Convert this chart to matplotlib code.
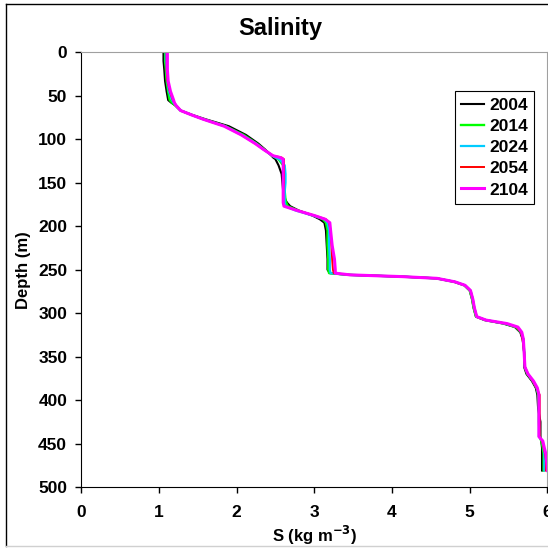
import matplotlib
matplotlib.use('Agg')
import matplotlib.pyplot as plt
from matplotlib.lines import Line2D

plt.rcParams['font.family'] = ['Liberation Sans', 'DejaVu Sans']
plt.rcParams['font.weight'] = 'bold'

# depth levels (m) shared by all profiles
depth = [0, 10, 20, 33, 45, 50, 55, 58, 61, 67, 72, 77, 85, 95, 105, 112, 119, 121, 123,
         130, 140, 150, 160, 170, 173, 177, 182, 188, 192, 196, 205, 222, 238, 250, 254,
         256, 258, 260, 264, 268, 274, 284, 294, 304, 308, 312, 316, 322, 330, 345, 362,
         370, 378, 386, 394, 410, 425, 442, 447, 455, 462, 470, 481]

years = ['2004', '2014', '2024', '2054', '2104']

s_2004 = [1.06, 1.06, 1.07, 1.08, 1.10, 1.11, 1.12, 1.16, 1.21, 1.28, 1.43, 1.60, 1.90, 2.12, 2.28, 2.37, 2.45, 2.47, 2.50,
          2.54, 2.58, 2.59, 2.60, 2.63, 2.65, 2.69, 2.80, 2.98, 3.07, 3.13, 3.15, 3.16, 3.17, 3.17, 3.20,
          3.44, 4.12, 4.57, 4.80, 4.93, 5.00, 5.03, 5.05, 5.08, 5.19, 5.43, 5.58, 5.65, 5.68, 5.70, 5.70,
          5.73, 5.80, 5.85, 5.87, 5.88, 5.91, 5.91, 5.92, 5.93, 5.93, 5.93, 5.93]
s_2014 = [1.08, 1.08, 1.09, 1.10, 1.12, 1.13, 1.14, 1.17, 1.21, 1.28, 1.42, 1.58, 1.86, 2.09, 2.26, 2.36, 2.46, 2.50, 2.54,
          2.60, 2.62, 2.62, 2.62, 2.63, 2.64, 2.66, 2.79, 3.00, 3.11, 3.15, 3.17, 3.17, 3.18, 3.18, 3.19,
          3.45, 4.12, 4.57, 4.80, 4.93, 5.00, 5.03, 5.05, 5.08, 5.20, 5.45, 5.59, 5.66, 5.69, 5.70, 5.71,
          5.74, 5.81, 5.86, 5.88, 5.89, 5.89, 5.90, 5.92, 5.94, 5.95, 5.95, 5.95]
s_2024 = [1.09, 1.09, 1.10, 1.11, 1.13, 1.15, 1.17, 1.19, 1.22, 1.28, 1.42, 1.57, 1.85, 2.07, 2.25, 2.35, 2.46, 2.50, 2.55,
          2.62, 2.63, 2.63, 2.62, 2.62, 2.62, 2.63, 2.76, 2.99, 3.13, 3.17, 3.19, 3.19, 3.20, 3.20, 3.21,
          3.45, 4.13, 4.58, 4.81, 4.94, 5.01, 5.04, 5.06, 5.09, 5.21, 5.46, 5.60, 5.66, 5.69, 5.70, 5.71,
          5.75, 5.81, 5.86, 5.89, 5.89, 5.89, 5.89, 5.93, 5.95, 5.96, 5.96, 5.96]
s_2054 = [1.10, 1.10, 1.10, 1.11, 1.14, 1.16, 1.18, 1.20, 1.22, 1.28, 1.42, 1.57, 1.84, 2.06, 2.24, 2.35, 2.47, 2.58, 2.61,
          2.61, 2.61, 2.61, 2.60, 2.60, 2.60, 2.62, 2.79, 3.01, 3.15, 3.19, 3.21, 3.22, 3.23, 3.24, 3.25,
          3.46, 4.13, 4.58, 4.81, 4.94, 5.01, 5.04, 5.06, 5.09, 5.21, 5.47, 5.60, 5.66, 5.68, 5.70, 5.71,
          5.75, 5.81, 5.86, 5.90, 5.90, 5.90, 5.90, 5.93, 5.95, 5.97, 5.98, 5.98]
s_2104 = [1.11, 1.11, 1.11, 1.12, 1.15, 1.17, 1.19, 1.20, 1.22, 1.28, 1.42, 1.57, 1.84, 2.06, 2.24, 2.35, 2.47, 2.56, 2.60,
          2.60, 2.60, 2.60, 2.60, 2.60, 2.60, 2.61, 2.78, 3.01, 3.14, 3.20, 3.21, 3.23, 3.26, 3.27, 3.27,
          3.46, 4.13, 4.58, 4.81, 4.94, 5.01, 5.04, 5.06, 5.09, 5.21, 5.48, 5.62, 5.67, 5.69, 5.70, 5.71,
          5.75, 5.82, 5.87, 5.89, 5.89, 5.89, 5.89, 5.94, 5.96, 5.98, 5.99, 6.00]

profiles = [s_2004, s_2014, s_2024, s_2054, s_2104]
colors = ['#000000', '#00ff00', '#00ccff', '#ff0000', '#ff00ff']
widths = [1.5, 1.7, 1.6, 1.4, 2.2]

fig = plt.figure(figsize=(5.48, 5.56), dpi=100)

# thin outer frame around the whole figure
fig.add_artist(Line2D([0.011, 0.011], [0.018, 0.993], color='black', lw=1.0, transform=fig.transFigure))
fig.add_artist(Line2D([0.011, 1.0], [0.993, 0.993], color='black', lw=1.0, transform=fig.transFigure))
fig.add_artist(Line2D([0.011, 1.0], [0.018, 0.018], color='#d0d0d0', lw=1.0, transform=fig.transFigure))

ax = fig.add_axes([0.148, 0.124, 0.851, 0.782])
for yr, s, c, w in zip(years, profiles, colors, widths):
    ax.plot(s, depth, color=c, lw=w, label=yr)

ax.set_xlim(0, 6)
ax.set_ylim(500, 0)
ax.set_xticks(range(0, 7))
ax.set_yticks(range(0, 501, 50))
ax.tick_params(direction='out', length=4, width=1, labelsize=12.5, pad=6)
ax.tick_params(axis='x', pad=9)
for lab in ax.get_xticklabels() + ax.get_yticklabels():
    lab.set_fontweight('bold')

ax.spines['left'].set_color('black')
ax.spines['bottom'].set_color('black')
ax.spines['top'].set_color('#a0a0a0')
ax.spines['right'].set_color('#a0a0a0')

fig.text(0.512, 0.949, 'Salinity', fontsize=17, fontweight='bold', ha='center', va='center')
ax.set_xlabel('S (kg m$^{\\mathbf{-3}}$)', fontsize=12, fontweight='bold', labelpad=3)
ax.set_ylabel('Depth (m)', fontsize=12, fontweight='bold', labelpad=5)

leg = ax.legend(loc='upper left', bbox_to_anchor=(0.802, 0.91), fancybox=False,
                edgecolor='black', framealpha=1, handlelength=1.3, handletextpad=0.3,
                borderpad=0.35, labelspacing=0.35, borderaxespad=0,
                prop={'weight': 'bold', 'size': 12.5})
leg.get_frame().set_linewidth(0.8)

plt.savefig('out.png', dpi=100)
